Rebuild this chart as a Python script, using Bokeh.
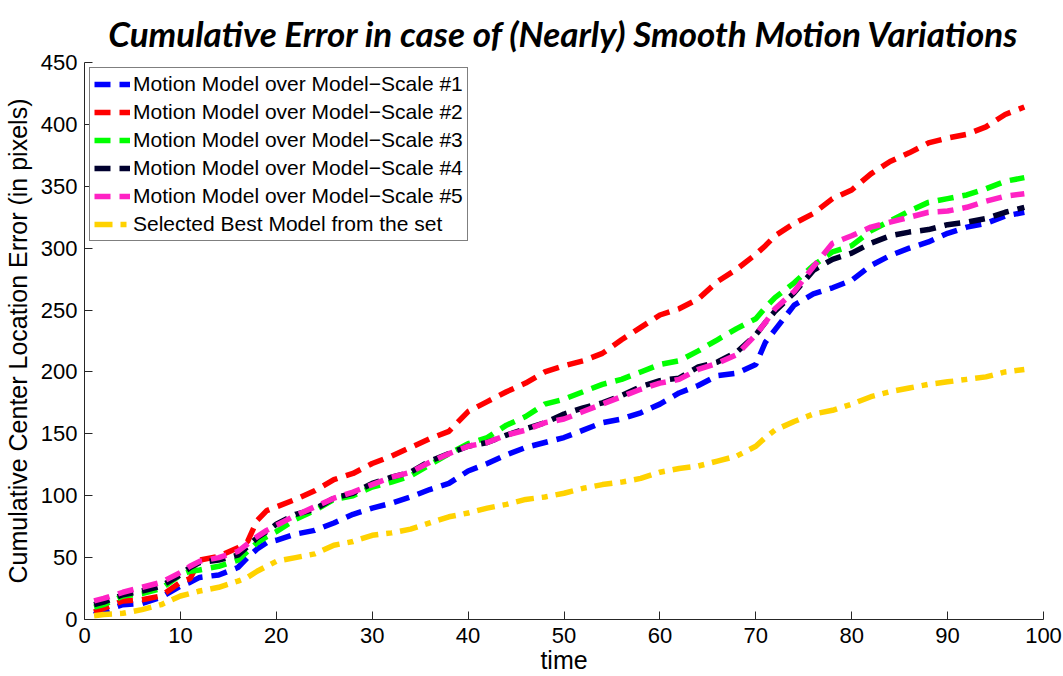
from bokeh.plotting import figure
from bokeh.models import Range1d, Legend, LegendItem, FixedTicker
from bokeh.embed import file_html
from bokeh.resources import INLINE

# frame index (time steps)
time = [1, 2, 4, 6, 8, 10, 11, 12, 14, 16, 17, 18, 19, 20, 22, 24, 26, 28, 30, 32,
        34, 36, 38, 40, 42, 44, 46, 48, 50, 52, 54, 56, 58, 60, 62, 64, 66, 68, 70,
        71, 72, 74, 76, 78, 80, 82, 84, 86, 88, 90, 92, 94, 96, 98]

# cumulative centre location error (pixels) per model
scale1 = [4, 7, 12, 13, 18, 27, 30, 34, 36, 42, 50, 57, 62, 64, 69, 72, 78, 85, 90, 94,
          99, 105, 110, 120, 126, 133, 139, 143, 147, 153, 159, 162, 167, 174, 183, 189,
          197, 199, 206, 224, 234, 254, 263, 268, 274, 286, 294, 300, 305, 312, 317, 320,
          326, 329]
scale2 = [6, 9, 15, 16, 19, 30, 33, 48, 51, 58, 63, 80, 88, 91, 97, 104, 113, 118, 126,
          132, 139, 146, 152, 168, 176, 184, 191, 200, 205, 209, 215, 226, 236, 246, 251,
          259, 273, 283, 295, 302, 310, 320, 328, 340, 347, 360, 370, 377, 385, 389, 392,
          398, 408, 414]
scale3 = [10, 12, 19, 21, 25, 36, 39, 40, 43, 48, 55, 62, 67, 71, 81, 88, 97, 100, 107,
          111, 116, 125, 134, 142, 147, 157, 164, 174, 178, 184, 190, 194, 200, 206, 209,
          217, 226, 235, 243, 252, 260, 272, 286, 297, 302, 314, 322, 330, 337, 340, 343,
          348, 354, 357]
scale4 = [12, 14, 20, 23, 27, 36, 42, 46, 48, 52, 59, 66, 71, 77, 85, 89, 98, 102, 110,
          115, 119, 128, 134, 140, 143, 149, 154, 159, 166, 171, 175, 181, 188, 193, 195,
          204, 208, 216, 230, 240, 249, 264, 282, 291, 296, 304, 310, 313, 315, 319, 321,
          324, 329, 333]
scale5 = [15, 17, 22, 26, 30, 38, 43, 47, 50, 55, 61, 67, 72, 76, 84, 91, 98, 103, 109,
          115, 119, 127, 134, 140, 143, 149, 153, 159, 162, 168, 174, 180, 186, 191, 194,
          202, 207, 214, 230, 240, 251, 265, 285, 304, 310, 317, 321, 325, 329, 330, 333,
          338, 342, 344]
selected = [3, 4, 5, 8, 12, 19, 21, 23, 26, 31, 34, 39, 43, 47, 50, 53, 60, 63, 68, 70,
            73, 78, 83, 86, 90, 93, 97, 99, 102, 106, 109, 111, 114, 119, 122, 124, 128,
            132, 140, 147, 153, 160, 166, 169, 174, 180, 184, 187, 190, 192, 194, 196,
            200, 202]

labels = ["Motion Model over Model\u2212Scale #1",
          "Motion Model over Model\u2212Scale #2",
          "Motion Model over Model\u2212Scale #3",
          "Motion Model over Model\u2212Scale #4",
          "Motion Model over Model\u2212Scale #5",
          "Selected Best Model from the set"]
series = [scale1, scale2, scale3, scale4, scale5, selected]
colors = ["#0000ff", "#ff0000", "#00ff00", "#00002e", "#ff22c4", "#ffd200"]
dashes = ["16 9", "16 9", "16 9", "16 9", "16 9", "18 8 6 8"]

p = figure(width=1063, height=676, output_backend="svg", toolbar_location=None,
           x_range=Range1d(0, 100), y_range=Range1d(0, 450),
           min_border_left=80, min_border_right=20, min_border_top=62,
           min_border_bottom=56)

p.title.text = "Cumulative Error in case of (Nearly) Smooth Motion Variations"
p.title.align = "center"
p.title.text_font = "Lato"
p.title.text_font_size = "35px"
p.title.text_font_style = "bold italic"
p.title.text_color = "black"
p.title.standoff = 18

p.outline_line_color = None
p.xgrid.visible = False
p.ygrid.visible = False
p.background_fill_color = "white"
p.border_fill_color = "white"

for ax in (p.xaxis[0], p.yaxis[0]):
    ax.major_tick_in = 8
    ax.major_tick_out = 0
    ax.minor_tick_in = 0
    ax.minor_tick_out = 0
    ax.axis_line_color = "#262626"
    ax.major_tick_line_color = "#262626"
    ax.major_label_text_font = "Liberation Sans"
    ax.major_label_text_font_size = "22px"
    ax.major_label_text_color = "black"
    ax.axis_label_text_font = "Liberation Sans"
    ax.axis_label_text_font_size = "25px"
    ax.axis_label_text_font_style = "normal"
    ax.axis_label_text_color = "black"

p.xaxis.ticker = FixedTicker(ticks=list(range(0, 101, 10)))
p.yaxis.ticker = FixedTicker(ticks=list(range(0, 451, 50)))
p.xaxis.axis_label = "time"
p.yaxis.axis_label = "Cumulative Center Location Error (in pixels)"
p.xaxis.major_label_standoff = 8
p.yaxis.major_label_standoff = 7
p.xaxis.axis_label_standoff = 0
p.yaxis.axis_label_standoff = 6

items = []
for lab, ys, col, dash in zip(labels, series, colors, dashes):
    r = p.line(time, ys, line_color=col, line_width=5.5, line_dash=dash)
    items.append(LegendItem(label=lab, renderers=[r]))

legend = Legend(items=items, location="top_left", margin=5,
                label_text_font="Liberation Sans", label_text_font_size="21px",
                label_text_color="black", glyph_width=36, glyph_height=22,
                label_height=22, label_standoff=3, spacing=4, padding=4,
                border_line_color="black", border_line_width=1,
                background_fill_color="white", background_fill_alpha=1)
p.add_layout(legend, "center")

open("out.html", "w").write(file_html(p, INLINE))
